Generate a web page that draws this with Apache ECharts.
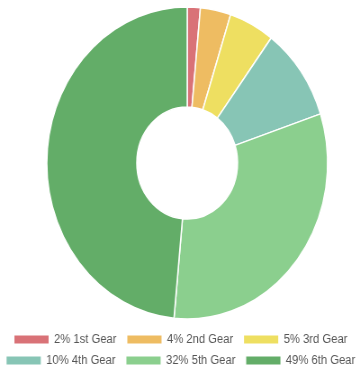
<!DOCTYPE html>
<html>
<head>
<meta charset="utf-8">
<script src="https://cdn.jsdelivr.net/npm/echarts@6/dist/echarts.min.js"></script>
<style>
  html, body { margin: 0; padding: 0; background: #fff; overflow: hidden; }
  #wrap { width: 360px; height: 368px; overflow: hidden; }
  /* the chart is drawn wider and squeezed horizontally */
  #chart { width: 400px; height: 368px; transform: scaleX(0.9); transform-origin: 0 0; }
</style>
</head>
<body>
<div id="wrap"><div id="chart"></div></div>
<script>
// Share of driving time spent in each gear (%)
const gears = ['1st Gear', '2nd Gear', '3rd Gear', '4th Gear', '5th Gear', '6th Gear'];
const shares = [1.5, 3.5, 5.2, 9.7, 31.6, 48.5];
const colors = ['#d97277', '#eebc62', '#eedf61', '#87c5b5', '#8bcf8e', '#63ad68'];

const total = shares.reduce((a, b) => a + b, 0);
const pct = {};
gears.forEach((g, i) => { pct[g] = Math.round(shares[i] / total * 100); });

const legendBase = {
  orient: 'horizontal',
  left: 'center',
  width: 400,
  padding: 0,
  itemWidth: 40,
  itemHeight: 10,
  itemGap: 10,
  icon: 'rect',
  textStyle: { color: '#555', fontSize: 12.5, fontFamily: 'Liberation Sans, Arial, sans-serif' },
  formatter: name => pct[name] + '% ' + name
};

const chart = echarts.init(document.getElementById('chart'), null, { renderer: 'canvas' });
chart.setOption({
  animation: false,
  color: colors,
  legend: [
    Object.assign({}, legendBase, { top: 333, data: gears.slice(0, 3) }),
    Object.assign({}, legendBase, { top: 354, data: gears.slice(3) })
  ],
  series: [{
    type: 'pie',
    center: [208, 163],
    radius: [56, 156],
    startAngle: 90,
    clockwise: true,
    label: { show: false },
    labelLine: { show: false },
    itemStyle: { borderColor: '#fff', borderWidth: 1.5 },
    data: gears.map((g, i) => ({ name: g, value: shares[i] }))
  }]
});
</script>
</body>
</html>
